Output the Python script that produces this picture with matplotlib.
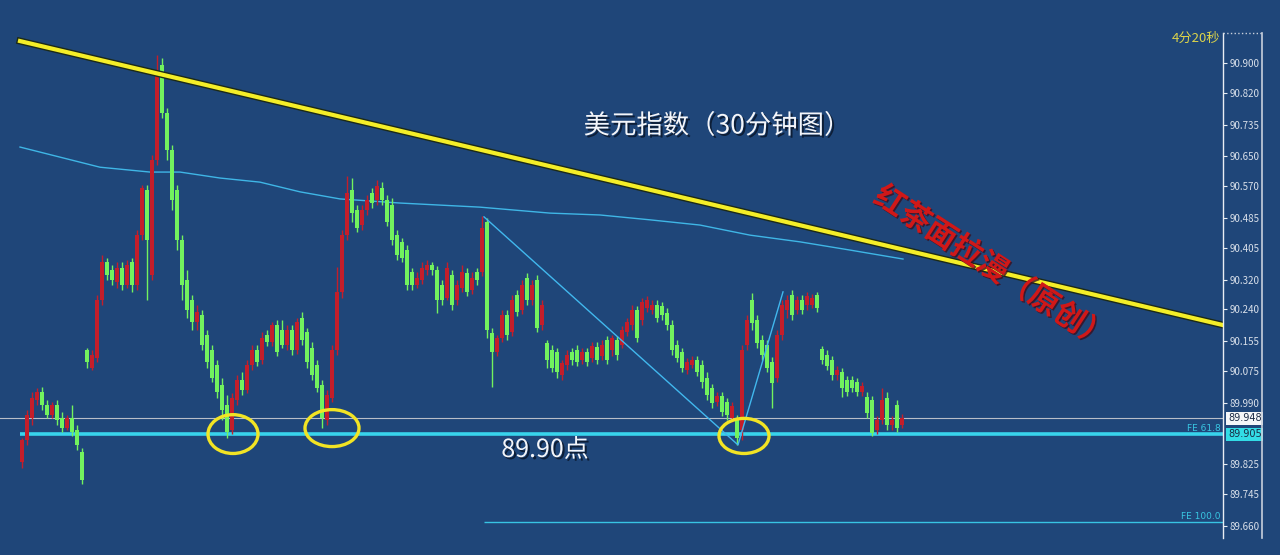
import numpy as np
import matplotlib
matplotlib.use("Agg")
import matplotlib.pyplot as plt
import matplotlib.patheffects as pe
from matplotlib.patches import Ellipse
from matplotlib.lines import Line2D
from matplotlib.transforms import blended_transform_factory

plt.rcParams['font.family'] = ['Noto Sans CJK SC', 'DejaVu Sans']

# ---- 30 min candles (USD index) ----
opens = [89.832, 89.891, 89.950, 89.998, 90.019, 89.985, 89.958, 89.985, 89.950, 89.923, 89.950, 89.917, 89.859,
         90.131, 90.084, 90.110, 90.265, 90.367, 90.346, 90.314, 90.351, 90.306, 90.367, 90.306, 90.440, 90.560,
         90.333, 90.640, 90.895, 90.766, 90.667, 90.560, 90.426, 90.319, 90.265, 90.207, 90.226, 90.172, 90.131,
         90.092, 90.038, 89.985, 89.917, 89.998, 90.051, 90.024, 90.092, 90.131, 90.105, 90.172, 90.153, 90.199,
         90.185, 90.145, 90.185, 90.131, 90.218, 90.180, 90.137, 90.092, 90.038, 89.944, 90.003, 90.131, 90.287,
         90.440, 90.560, 90.506, 90.467, 90.506, 90.552, 90.533, 90.566, 90.533, 90.520, 90.440, 90.421, 90.399,
         90.341, 90.306, 90.319, 90.346, 90.359, 90.346, 90.306, 90.271, 90.333, 90.265, 90.298, 90.338, 90.292,
         90.341, 90.341, 90.475, 90.177, 90.126, 90.164, 90.226, 90.180, 90.279, 90.239, 90.325, 90.265, 90.319,
         90.199, 90.150, 90.131, 90.126, 90.065, 90.092, 90.126, 90.131, 90.105, 90.126, 90.110, 90.139, 90.115,
         90.158, 90.131, 90.158, 90.145, 90.180, 90.199, 90.239, 90.212, 90.244, 90.239, 90.252, 90.249, 90.231,
         90.199, 90.145, 90.126, 90.078, 90.092, 90.105, 90.092, 90.057, 90.030, 89.993, 90.008, 89.993, 89.950,
         89.944, 89.917, 90.145, 90.265, 90.212, 90.158, 90.145, 90.100, 90.057, 90.172, 90.239, 90.279, 90.239,
         90.265, 90.252, 90.252, 90.279, 90.134, 90.118, 90.105, 90.065, 90.073, 90.051, 90.051, 90.046, 90.019,
         90.005, 89.998, 89.917, 89.944, 90.003, 89.931, 89.985, 89.931]
closes = [89.891, 89.958, 90.003, 90.019, 89.985, 89.958, 89.985, 89.944, 89.923, 89.950, 89.912, 89.878, 89.783,
          90.100, 90.118, 90.265, 90.367, 90.333, 90.319, 90.351, 90.306, 90.359, 90.306, 90.440, 90.566, 90.426,
          90.640, 90.876, 90.766, 90.667, 90.533, 90.426, 90.306, 90.239, 90.207, 90.234, 90.145, 90.100, 90.057,
          90.019, 89.971, 89.912, 90.003, 90.051, 90.024, 90.092, 90.131, 90.100, 90.164, 90.153, 90.199, 90.126,
          90.145, 90.185, 90.131, 90.207, 90.158, 90.100, 90.065, 90.030, 89.950, 90.011, 90.131, 90.287, 90.440,
          90.552, 90.498, 90.459, 90.506, 90.533, 90.525, 90.571, 90.533, 90.475, 90.426, 90.386, 90.378, 90.306,
          90.306, 90.325, 90.351, 90.359, 90.346, 90.265, 90.265, 90.351, 90.252, 90.306, 90.341, 90.287, 90.325,
          90.319, 90.459, 90.185, 90.126, 90.164, 90.226, 90.172, 90.265, 90.234, 90.306, 90.265, 90.306, 90.191,
          90.252, 90.105, 90.084, 90.073, 90.097, 90.118, 90.105, 90.100, 90.126, 90.100, 90.142, 90.105, 90.145,
          90.105, 90.164, 90.118, 90.185, 90.207, 90.239, 90.164, 90.260, 90.265, 90.252, 90.218, 90.226, 90.199,
          90.131, 90.110, 90.084, 90.100, 90.105, 90.073, 90.046, 90.011, 89.990, 90.008, 89.966, 89.958, 89.982,
          89.896, 90.131, 90.212, 90.204, 90.150, 90.118, 90.084, 90.043, 90.172, 90.252, 90.265, 90.226, 90.265,
          90.239, 90.276, 90.271, 90.244, 90.105, 90.089, 90.065, 90.078, 90.030, 90.019, 90.030, 90.019, 90.035,
          89.963, 89.909, 89.944, 89.998, 89.931, 89.944, 89.923, 89.950]
highs = [89.896, 89.971, 90.019, 90.030, 90.032, 89.998, 89.993, 89.998, 89.966, 89.958, 89.985, 89.931, 89.870,
         90.137, 90.131, 90.279, 90.386, 90.378, 90.359, 90.367, 90.367, 90.372, 90.378, 90.453, 90.574, 90.574,
         90.654, 90.922, 90.914, 90.780, 90.681, 90.574, 90.440, 90.346, 90.279, 90.252, 90.239, 90.185, 90.145,
         90.105, 90.057, 90.011, 90.016, 90.065, 90.073, 90.105, 90.145, 90.145, 90.180, 90.185, 90.207, 90.212,
         90.212, 90.199, 90.199, 90.218, 90.234, 90.191, 90.153, 90.105, 90.051, 90.024, 90.145, 90.353, 90.453,
         90.597, 90.592, 90.520, 90.520, 90.547, 90.566, 90.587, 90.582, 90.547, 90.539, 90.453, 90.432, 90.413,
         90.351, 90.341, 90.367, 90.372, 90.367, 90.356, 90.319, 90.367, 90.346, 90.319, 90.359, 90.351, 90.341,
         90.351, 90.490, 90.485, 90.191, 90.172, 90.239, 90.239, 90.279, 90.292, 90.319, 90.338, 90.319, 90.333,
         90.265, 90.158, 90.145, 90.137, 90.105, 90.131, 90.137, 90.145, 90.137, 90.137, 90.153, 90.153, 90.158,
         90.169, 90.172, 90.169, 90.196, 90.218, 90.252, 90.249, 90.271, 90.276, 90.265, 90.265, 90.260, 90.244,
         90.212, 90.158, 90.137, 90.110, 90.115, 90.115, 90.105, 90.073, 90.040, 90.019, 90.019, 90.003, 89.993,
         89.958, 90.145, 90.226, 90.284, 90.226, 90.172, 90.158, 90.112, 90.185, 90.265, 90.279, 90.292, 90.276,
         90.279, 90.287, 90.281, 90.287, 90.142, 90.131, 90.115, 90.089, 90.084, 90.062, 90.062, 90.057, 90.046,
         90.019, 90.008, 89.955, 90.030, 90.019, 89.955, 89.998, 89.960]
lows = [89.816, 89.878, 89.931, 89.985, 89.971, 89.950, 89.950, 89.931, 89.912, 89.917, 89.901, 89.864, 89.772,
        90.084, 90.078, 90.100, 90.252, 90.319, 90.306, 90.298, 90.292, 90.298, 90.287, 90.292, 90.426, 90.265,
        90.319, 90.627, 90.753, 90.640, 90.506, 90.399, 90.265, 90.218, 90.185, 90.185, 90.131, 90.084, 90.046,
        90.003, 89.944, 89.896, 89.906, 89.985, 90.011, 90.016, 90.078, 90.089, 90.094, 90.142, 90.142, 90.115,
        90.137, 90.131, 90.118, 90.120, 90.145, 90.084, 90.051, 90.019, 89.923, 89.931, 89.993, 90.118, 90.271,
        90.426, 90.475, 90.448, 90.453, 90.493, 90.512, 90.520, 90.520, 90.464, 90.413, 90.372, 90.367, 90.292,
        90.292, 90.298, 90.308, 90.333, 90.333, 90.231, 90.252, 90.265, 90.239, 90.252, 90.287, 90.276, 90.281,
        90.306, 90.330, 90.164, 90.032, 90.115, 90.153, 90.158, 90.169, 90.223, 90.228, 90.252, 90.252, 90.180,
        90.185, 90.084, 90.073, 90.057, 90.051, 90.078, 90.092, 90.089, 90.094, 90.089, 90.100, 90.094, 90.105,
        90.094, 90.115, 90.105, 90.137, 90.169, 90.185, 90.153, 90.199, 90.234, 90.228, 90.207, 90.212, 90.185,
        90.118, 90.100, 90.073, 90.067, 90.084, 90.062, 90.030, 89.998, 89.977, 89.982, 89.955, 89.944, 89.939,
        89.878, 89.891, 90.131, 90.185, 90.137, 90.105, 90.073, 89.977, 90.046, 90.158, 90.218, 90.212, 90.228,
        90.228, 90.239, 90.244, 90.234, 90.094, 90.078, 90.051, 90.051, 90.005, 90.008, 90.019, 90.008, 90.008,
        89.950, 89.901, 89.906, 89.933, 89.917, 89.917, 89.912, 89.923]

# moving average (light blue) sampled along the chart: bar index, price
ma_idx = [-0.4, 7.6, 15.6, 25.6, 31.6, 39.6, 47.6, 55.6, 63.6, 75.6, 91.6, 105.6, 115.6, 125.6, 135.6, 145.6, 155.6, 165.6, 176.2]
ma_val = [90.675, 90.648, 90.621, 90.608, 90.608, 90.592, 90.581, 90.555, 90.536, 90.525, 90.514, 90.498, 90.493,
          90.480, 90.466, 90.439, 90.421, 90.399, 90.375]

# resistance trendline (yellow)
trend_idx = [-0.4, 240.2]
trend_val = [90.959, 90.198]

# fibo expansion legs A-B-C
fibo_idx = [92.4, 143.2, 152.2]
fibo_val = [90.488, 89.877, 90.287]
fe_levels = {'FE 61.8': 89.905, 'FE 100.0': 89.670}
last_price = 89.948

# circled lows: bar index, price
circle_idx = [42.2, 62.0, 144.4]
circle_val = [89.906, 89.922, 89.901]

yticks = [90.900, 90.820, 90.735, 90.650, 90.570, 90.485, 90.405, 90.320, 90.240,
          90.155, 90.075, 89.990, 89.825, 89.745, 89.660]

bg = '#1f4679'
up_col = '#c41e2a'
down_col = '#72f25e'

fig = plt.figure(figsize=(12.8, 5.55), dpi=100, facecolor=bg)
ax = fig.add_axes([0, 0, 1223 / 1280, 1])
ax.set_facecolor(bg)

o = np.array(opens)
c = np.array(closes)
h = np.array(highs)
l = np.array(lows)
x = np.arange(len(o))
cols = [up_col if cc >= oo else down_col for oo, cc in zip(o, c)]

ax.vlines(x, l, h, colors=cols, lw=1.0, zorder=3)
body = np.maximum(np.abs(c - o), 0.004)
ax.bar(x, body, bottom=np.minimum(o, c), width=0.62, color=cols, lw=0, zorder=3)

# horizontal levels
ax.axhline(last_price, xmin=0.0, xmax=1, color='#b8bec8', lw=0.8, zorder=2)
ax.hlines(fe_levels['FE 61.8'], -0.4, 245, color='#38d4ec', lw=2.6, zorder=2)
ax.hlines(fe_levels['FE 100.0'], fibo_idx[0], 245, color='#38c4e4', lw=1.0, zorder=2)

# MA and fibo legs
ax.plot(ma_idx, ma_val, color='#3fb6e6', lw=1.0, zorder=2)
ax.plot(fibo_idx, fibo_val, color='#41b8ee', lw=1.0, zorder=4)

# yellow trendline with dark edge
ax.plot(trend_idx, trend_val, color='#f4ee28', lw=3.0, zorder=5,
        path_effects=[pe.Stroke(linewidth=5, foreground='#1c2a18'), pe.Normal()])

for ci, cv, w, hh in zip(circle_idx, circle_val, [10, 10.8, 10], [0.104, 0.099, 0.094]):
    ax.add_patch(Ellipse((ci, cv), w, hh, fill=False, ec='#f2e424', lw=2.4, zorder=6))

ax.set_xlim(-4.4, 240.2)
ax.set_ylim(89.582, 91.069)
ax.set_xticks([])
ax.yaxis.tick_right()
ax.set_yticks(yticks)
ax.set_yticklabels(['%.3f' % v for v in yticks])
ax.tick_params(axis='y', direction='out', length=3, width=0.8, color='#e8edf3',
               labelsize=7, labelcolor='#d9e0ea', pad=2)
for s in ax.spines.values():
    s.set_visible(False)

# price boxes on the axis
tr = blended_transform_factory(ax.transAxes, ax.transData)
ax.text(1.004, last_price, '%.3f' % last_price, transform=tr, fontsize=7, color='#1b2a44',
        va='center', ha='left', family='DejaVu Sans', clip_on=False,
        bbox=dict(boxstyle='square,pad=0.15', fc='#f4f6f8', ec='none'))
ax.text(1.004, fe_levels['FE 61.8'], '%.3f' % fe_levels['FE 61.8'], transform=tr, fontsize=7,
        color='#1b2a44', va='center', ha='left', family='DejaVu Sans', clip_on=False,
        bbox=dict(boxstyle='square,pad=0.15', fc='#33dde6', ec='none'))
for name, val in fe_levels.items():
    ax.text(0.998, val + 0.004, name, transform=tr, fontsize=6.5, color='#39c6e2',
            va='bottom', ha='right', family='DejaVu Sans')

# right-hand frame lines
fig.add_artist(Line2D([1223 / 1280] * 2, [1 - 33 / 555, 1 - 538 / 555], color='#e8edf3', lw=1.0))
fig.add_artist(Line2D([1262 / 1280] * 2, [1 - 33 / 555, 1 - 538 / 555], color='#c8d0dc', lw=1.2))
fig.add_artist(Line2D([1223 / 1280, 1262 / 1280], [1 - 33 / 555] * 2, color='#c8d0dc', lw=1.0, ls=':'))
fig.text(1220 / 1280, 1 - 38 / 555, '4分20秒', color='#dcd44a', fontsize=9.5, ha='right', va='center')

shadow = [pe.SimplePatchShadow(offset=(1.5, -1.5), shadow_rgbFace='#0b1a30', alpha=0.9), pe.Normal()]
fig.text(717 / 1280, 1 - 126 / 555, '美元指数（30分钟图）', color='#f4f6fa', fontsize=19,
         ha='center', va='center', path_effects=shadow)
fig.text(545 / 1280, 1 - 450 / 555, '89.90点', color='#f4f6fa', fontsize=18,
         ha='center', va='center', path_effects=shadow)
fig.text(992 / 1280, 1 - 268 / 555, '红茶面拉漫（原创）', color='#d01818', fontsize=22,
         fontweight='bold', ha='center', va='center', rotation=-33,
         path_effects=[pe.SimplePatchShadow(offset=(1, -1), shadow_rgbFace='#3a1020', alpha=0.8), pe.Normal()])

fig.savefig('out.png', dpi=100, facecolor=bg)
